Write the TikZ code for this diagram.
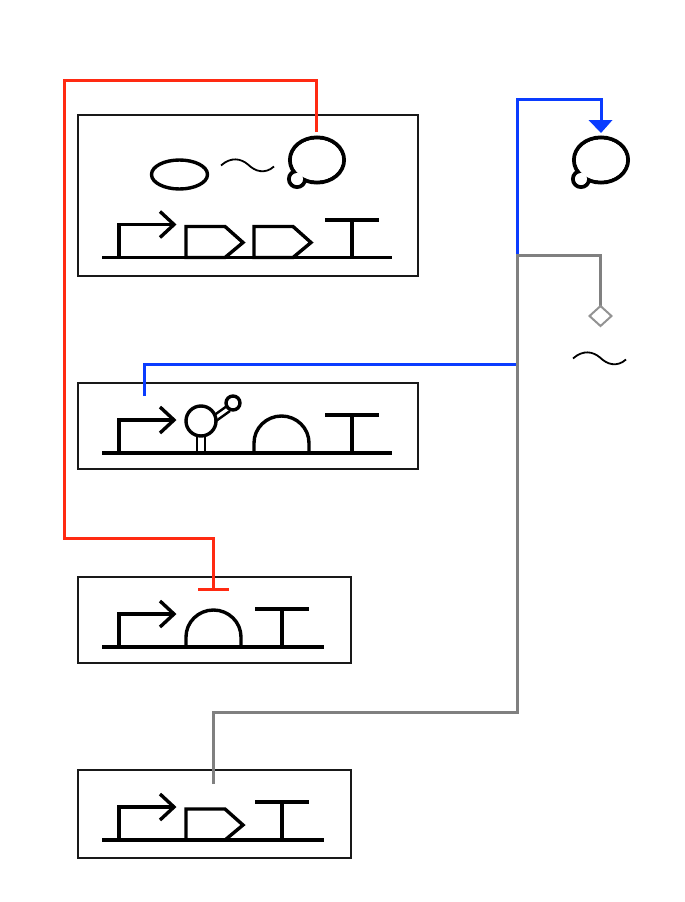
\documentclass[tikz,border=0pt]{standalone}
\usetikzlibrary{arrows.meta,calc}
\definecolor{repred}{HTML}{FF2A12}
\definecolor{actblue}{HTML}{0A3CFF}
\definecolor{smgrey}{HTML}{808080}
\tikzset{
  x=1pt,y=-1pt,
  gbox/.style={draw=black!90,line width=1.8pt,rectangle,inner sep=0pt,outer sep=0pt},
  glyph/.style={draw=black,line width=3.4pt,line join=miter},
  wire/.style={line width=3pt,line join=miter},
  redwire/.style={wire,draw=repred},
  bluewire/.style={wire,draw=actblue},
  greywire/.style={wire,draw=smgrey},
  promoter/.pic={
    \draw[glyph] (0,0) -- (0,-33) -- (54,-33);
    \draw[glyph] (41,-46) -- (55,-33) -- (41,-20);
  },
  cds/.pic={
    \draw[glyph] (0,0) -- (0,-31) -- (39,-31) -- (57,-15) -- (39,0) -- cycle;
  },
  term/.pic={
    \draw[glyph] (0,0) -- (0,-38);
    \draw[glyph,line width=4pt] (-27,-38) -- (27,-38);
  },
  dome/.pic={
    \draw[glyph] (0,0) -- (0,-10) arc[start angle=180,end angle=360,x radius=27.5,y radius=27] -- (55,0);
  },
  wave/.pic={
    \draw[draw=black,line width=1.8pt] (0,0) .. controls (10,-9) and (20,-7) .. (27,-1) .. controls (34,6) and (44,9) .. (53,1);
  },
  blob/.pic={
    \draw[glyph,line width=4pt] (0,0) ellipse[x radius=27,y radius=22.5];
    \draw[glyph,line width=4pt] (-20,19) circle[radius=8];
    \fill[white] (0,0) ellipse[x radius=25,y radius=20.5];
    \fill[white] (-20,19) circle[radius=6];
  },
  aptamer/.pic={
    \draw[draw=black,line width=2.8pt] (-4,0) -- (-4,-20);
    \draw[draw=black,line width=2.8pt] (4,0) -- (4,-20);
    \draw[draw=black,line width=2.4pt] (12,-37) -- (26,-47);
    \draw[draw=black,line width=2.4pt] (15,-32) -- (29,-42);
    \filldraw[glyph,fill=white] (0,-32) circle[radius=15];
    \filldraw[glyph,fill=white] (32,-50) circle[radius=7];
  },
}
\begin{document}
\begin{tikzpicture}
\useasboundingbox (0,0) rectangle (685,902);

% boxes
\node[gbox,minimum width=340pt,minimum height=161pt] (boxA) at (248,195.5) {};
\node[gbox,minimum width=340pt,minimum height=86pt] (boxB) at (248,426) {};
\node[gbox,minimum width=273pt,minimum height=86pt] (boxC) at (214.5,620) {};
\node[gbox,minimum width=273pt,minimum height=88pt] (boxD) at (214.5,814) {};

% baselines
\draw[glyph] (102,257.5) -- (392,257.5);
\draw[glyph] (102,453) -- (392,453);
\draw[glyph] (102,647) -- (324,647);
\draw[glyph] (102,840) -- (324,840);

% box A glyphs
\pic at (119,257.5) {promoter};
\pic at (186,257.5) {cds};
\pic at (254,257.5) {cds};
\pic at (352,257.5) {term};
\draw[glyph] (179.5,174.5) ellipse[x radius=28,y radius=14.5];
\pic at (221,165.5) {wave};
\pic at (317,160) {blob};

% box B glyphs
\pic at (119,453) {promoter};
\pic at (201,453) {aptamer};
\pic at (254,453) {dome};
\pic at (352,453) {term};

% box C glyphs
\pic at (119,647) {promoter};
\pic at (186,647) {dome};
\pic at (282,647) {term};

% box D glyphs
\pic at (119,840) {promoter};
\pic at (186,840) {cds};
\pic at (282,840) {term};

% free glyphs
\pic at (601,160) {blob};
\pic at (573,358.5) {wave};

% connector ends
\coordinate (redStart) at (316,132);
\coordinate (redTopCorner) at (64,80);
\coordinate (redBottomCorner) at (64,538);
\coordinate (redEnd) at (213,589);
\coordinate (barL) at (198,589);
\coordinate (barR) at (229,589);
\coordinate (junction) at (517.5,255.5);
\coordinate (blueTopLeft) at (517.5,99);
\coordinate (blueArrowBase) at (601,120);
\coordinate (blueArrowEnd) at (601,133);
\coordinate (blueHeadL) at (588.5,120);
\coordinate (blueHeadR) at (612.5,120);
\coordinate (blueTap) at (517.5,364);
\coordinate (blueLow) at (144,396);
\coordinate (greyStart) at (213,784);
\coordinate (greyCorner) at (517.5,712);
\coordinate (diamondN) at (600.5,306);
\coordinate (diamondE) at (611.5,316);
\coordinate (diamondS) at (600.5,326);
\coordinate (diamondW) at (589.5,316);

% connectors
\draw[redwire] (redStart) |- (redTopCorner) -- (redBottomCorner) -| (redEnd);
\draw[redwire] (barL) -- (barR);
\draw[bluewire] (blueLow) |- (blueTap);
\draw[bluewire] (junction) -- (blueTopLeft) -| (blueArrowBase);
\fill[actblue] (blueHeadL) -- (blueHeadR) -- (blueArrowEnd) -- cycle;
\draw[greywire] (greyStart) |- (greyCorner) -- (junction) -| (diamondN);
\draw[smgrey!85,line width=2pt,fill=white,line join=miter] (diamondN) -- (diamondE) -- (diamondS) -- (diamondW) -- cycle;
\end{tikzpicture}
\end{document}
